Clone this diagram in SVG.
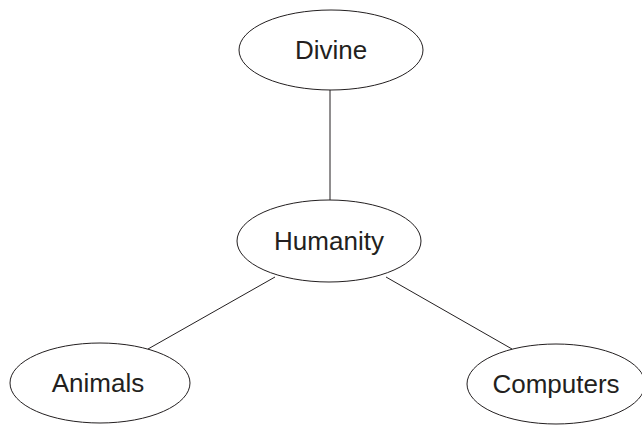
<svg xmlns="http://www.w3.org/2000/svg" width="642" height="425" viewBox="0 0 642 425">
<style>
.node ellipse{fill:#fff;stroke:#231f20;stroke-width:1}
.node text{font-family:"Liberation Sans",Arial,sans-serif;font-size:26px;fill:#231f20;text-anchor:middle}
.edges line{stroke:#231f20;stroke-width:1}
</style>
<rect width="642" height="425" fill="#fff"/>
<g class="edges">
<line x1="330" y1="90" x2="330" y2="200"/>
<line x1="275" y1="277" x2="148" y2="349"/>
<line x1="386" y1="277" x2="512" y2="349"/>
</g>
<g id="divine" class="node"><ellipse cx="331" cy="50" rx="92" ry="40"/><text x="331" y="59">Divine</text></g>
<g id="humanity" class="node"><ellipse cx="329" cy="241" rx="92" ry="41"/><text x="329" y="250">Humanity</text></g>
<g id="animals" class="node"><ellipse cx="100" cy="383" rx="90" ry="40"/><text x="98" y="392">Animals</text></g>
<g id="computers" class="node"><ellipse cx="556" cy="384" rx="89" ry="40"/><text x="556" y="393">Computers</text></g>
</svg>
